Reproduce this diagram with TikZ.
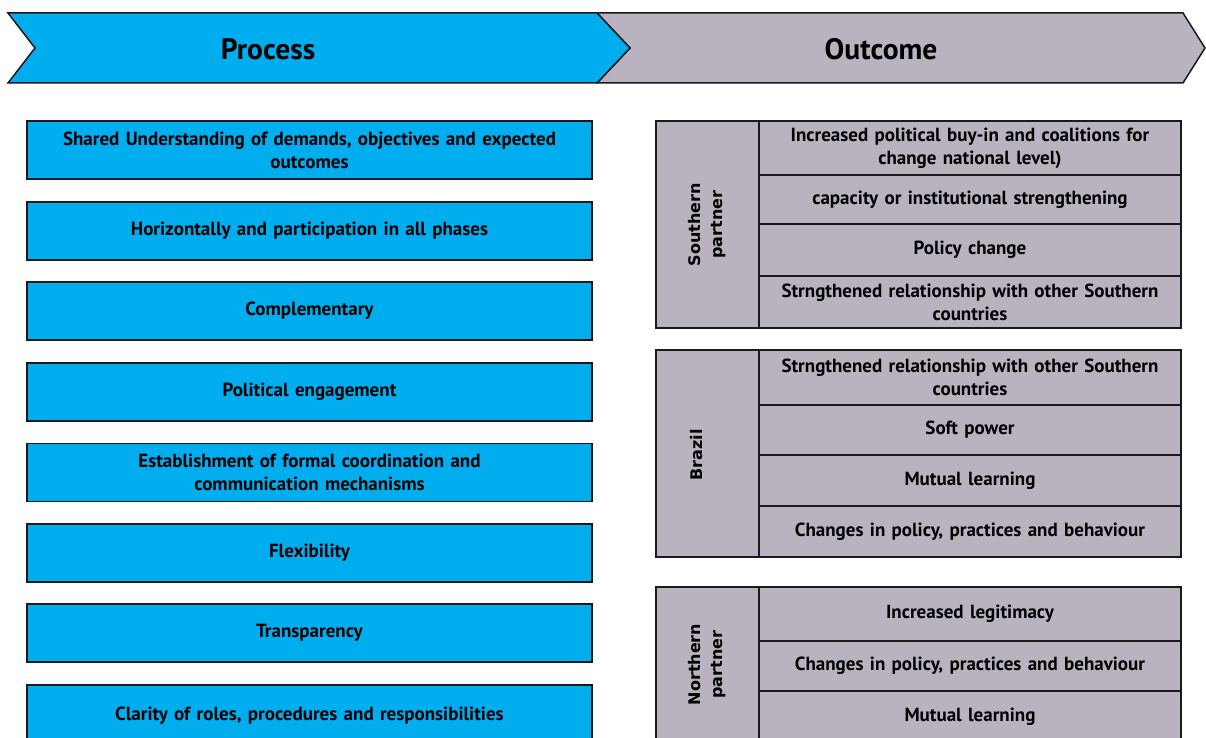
\documentclass[tikz,border=0pt]{standalone}
\usepackage{fontspec}
\setmainfont{PT Sans}
\newfontfamily\labfont{DejaVu Sans}
\definecolor{pblue}{HTML}{00AEEF}
\definecolor{ogray}{HTML}{B9B3BF}
\definecolor{edge}{HTML}{1A1A1A}
\begin{document}
\begin{tikzpicture}[x=1pt,y=-1pt,
  txt/.style={font=\bfseries\fontsize{19}{23}\selectfont},
  pbox/.style={txt, draw=edge, line width=1.8pt, fill=pblue, minimum width=565pt, minimum height=58pt, inner sep=0pt, text width=545pt, align=center},
  ocell/.style={txt, draw=edge, line width=1.8pt, fill=ogray, minimum width=422pt, inner sep=0pt, text width=410pt, align=center},
  lfont/.style={font=\labfont\bfseries\fontsize{16}{22}\selectfont},
  lcell/.style={lfont, draw=edge, line width=1.8pt, fill=ogray, rotate=90, minimum height=103pt, inner sep=0pt, align=center},
  chev/.style={draw=edge, line width=1.5pt, line join=miter},
  head/.style={font=\bfseries\fontsize{29.5}{32}\selectfont}]
\useasboundingbox (0,0) rectangle (1206,738);
\clip (0,0) rectangle (1206,738);
% chevrons
\draw[chev, fill=ogray] (597,13) -- (1183,13) -- (1205,48) -- (1183,83) -- (597,83) -- (630,48) -- cycle;
\draw[chev, fill=pblue] (8,13) -- (597,13) -- (630,48) -- (597,83) -- (8,83) -- (35,48) -- cycle;
\node[head] (process) at (268,49) {Process};
\node[head] (outcome) at (881,49) {Outcome};
% process boxes
\node[pbox] (p1) at (309.5,150) {Shared Understanding of demands, objectives and expected\\outcomes};
\node[pbox] (p2) at (309.5,231) {Horizontally and participation in all phases};
\node[pbox] (p3) at (309.5,311) {Complementary};
\node[pbox] (p4) at (309.5,392) {Political engagement};
\node[pbox] (p5) at (309.5,472.5) {Establishment of formal coordination and\\communication mechanisms};
\node[pbox] (p6) at (309.5,553) {Flexibility};
\node[pbox] (p7) at (309.5,633) {Transparency};
\node[pbox, minimum height=62pt] (p8) at (309.5,716) {Clarity of roles, procedures and responsibilities};
% Southern partner
\node[lcell, minimum width=207pt] (gS) at (707.5,224.5) {Southern\\partner};
\node[ocell, minimum height=54pt] (s1) at (970,148) {Increased political buy-in and coalitions for\\change national level)};
\node[ocell, minimum height=49pt] (s2) at (970,199.5) {capacity or institutional strengthening};
\node[ocell, minimum height=52pt] (s3) at (970,250) {Policy change};
\node[ocell, minimum height=52pt] (s4) at (970,302) {Strngthened relationship with other Southern\\countries};
% Brazil
\node[lcell, minimum width=207pt] (gB) at (707.5,453.5) {};
\node[lfont, rotate=90] (gBt) at (697,455) {Brazil};
\node[ocell, minimum height=55pt] (b1) at (970,377.5) {Strngthened relationship with other Southern\\countries};
\node[ocell, minimum height=50pt] (b2) at (970,430) {Soft power};
\node[ocell, minimum height=51pt] (b3) at (970,480.5) {Mutual learning};
\node[ocell, minimum height=51pt] (b4) at (970,531.5) {Changes in policy, practices and behaviour};
% Northern partner
\node[lcell, minimum width=155pt] (gN) at (707.5,664.5) {Northern\\partner};
\node[ocell, minimum height=54pt] (n1) at (970,614) {Increased legitimacy};
\node[ocell, minimum height=50pt] (n2) at (970,666) {Changes in policy, practices and behaviour};
\node[ocell, minimum height=51pt] (n3) at (970,716.5) {Mutual learning};
\end{tikzpicture}
\end{document}
